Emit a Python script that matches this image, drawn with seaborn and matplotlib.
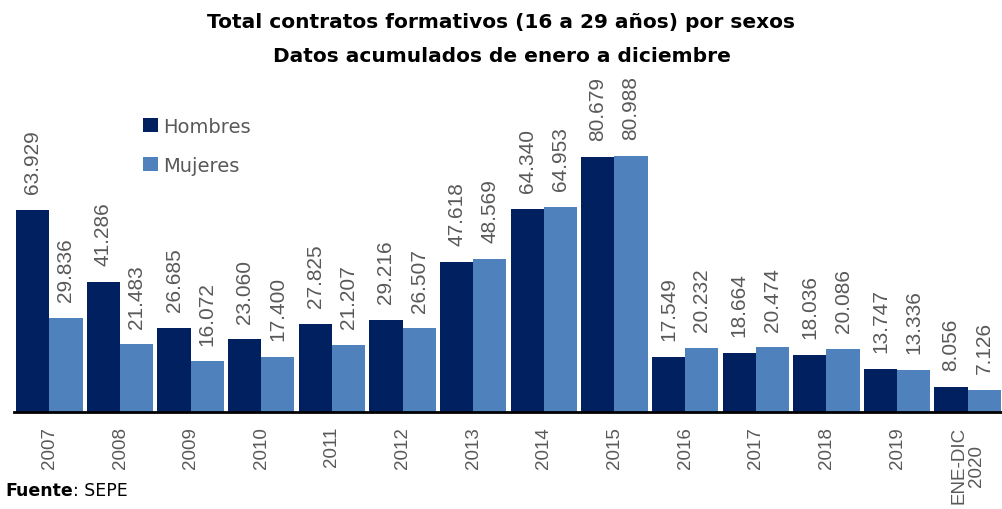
"""
Total contratos formativos (16 a 29 años) por sexos - bar chart.
"""

import matplotlib
matplotlib.use("Agg")
import matplotlib.pyplot as plt
import pandas as pd
import seaborn as sns

# Data
YEARS = ["2007", "2008", "2009", "2010", "2011", "2012", "2013",
         "2014", "2015", "2016", "2017", "2018", "2019", "ENE-DIC\n2020"]
HOMBRES = [63929, 41286, 26685, 23060, 27825, 29216, 47618,
           64340, 80679, 17549, 18664, 18036, 13747, 8056]
MUJERES = [29836, 21483, 16072, 17400, 21207, 26507, 48569,
           64953, 80988, 20232, 20474, 20086, 13336, 7126]
SERIES = ["Hombres", "Mujeres"]

DARK = "#002060"
LIGHT = "#4f81bd"
GRAY = "#595959"
NUM_FONT = ["Liberation Sans", "DejaVu Sans"]

df = pd.DataFrame({
    "periodo": YEARS * 2,
    "sexo": [SERIES[0]] * len(YEARS) + [SERIES[1]] * len(YEARS),
    "contratos": HOMBRES + MUJERES,
})

sns.set_theme(style="white")
plt.rcParams["font.family"] = ["DejaVu Sans"]

fig = plt.figure(figsize=(10.03, 5.10), dpi=100)
ax = fig.add_axes([0.014, 0.19, 0.986, 0.62])

sns.barplot(data=df, x="periodo", y="contratos", hue="sexo",
            palette=[DARK, LIGHT], width=0.94, saturation=1,
            linewidth=0, ax=ax, legend=True)

for cont in ax.containers:
    labels = [f"{int(v):,}".replace(",", ".") for v in cont.datavalues]
    ax.bar_label(cont, labels=labels, rotation=90, padding=12,
                 fontsize=15, color=GRAY, family=NUM_FONT)

ax.set_ylim(0, 100000)
ax.set_xlim(-0.5, len(YEARS) - 0.5)
ax.set_xlabel("")
ax.set_ylabel("")
ax.set_yticks([])
ax.tick_params(axis="x", length=0, pad=10)
ax.set_xticks(range(len(YEARS)))
ax.set_xticklabels(YEARS, rotation=90, fontsize=13.5, color=GRAY,
                   family=NUM_FONT, va="top", ha="center",
                   multialignment="center", linespacing=1.0)

for s in ["top", "right", "left"]:
    ax.spines[s].set_visible(False)
ax.spines["bottom"].set_color("black")
ax.spines["bottom"].set_linewidth(2)

ax.legend(loc="upper left", bbox_to_anchor=(0.113, 0.99), frameon=False,
          fontsize=14, handlelength=0.75, handleheight=0.75,
          handletextpad=0.25, labelspacing=1.05,
          labelcolor=GRAY)

fig.text(0.5, 0.955, "Total contratos formativos (16 a 29 años) por sexos",
         ha="center", va="center", fontsize=14.5, fontweight="bold",
         color="black")
fig.text(0.5, 0.89, "Datos acumulados de enero a diciembre",
         ha="center", va="center", fontsize=14.5, fontweight="bold",
         color="black")

t1 = fig.text(0.005, 0.02, "Fuente", ha="left", va="bottom",
              fontsize=12.5, fontweight="bold", color="black")
ax.annotate(": SEPE", xy=(1, 0), xycoords=t1, ha="left", va="bottom",
            fontsize=12.5, color="black")

fig.savefig("out.png", dpi=100)
